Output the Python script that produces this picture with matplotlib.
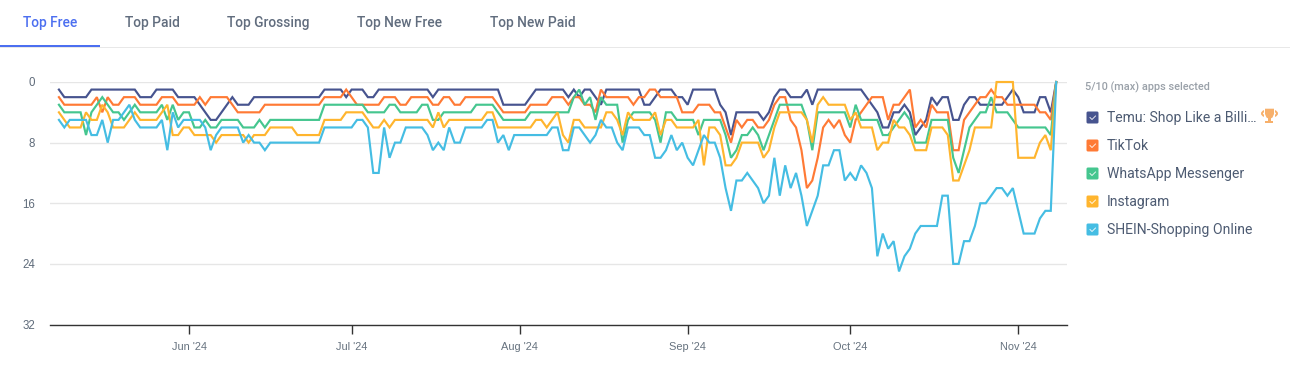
import matplotlib
matplotlib.use("Agg")
import matplotlib.pyplot as plt
import matplotlib.dates as mdates
import pandas as pd
from matplotlib.patches import FancyBboxPatch, Rectangle, Ellipse, Polygon

plt.rcParams['font.family'] = ['Roboto', 'DejaVu Sans']

# Daily rank, May 8 to Nov 8 2024
START_DATE = '2024-05-08'

temu = [
    1,2,2,2,2,2,1,1,1,1,1,1,1,1,1,2,2,2,1,1,
    1,1,2,2,2,2,3,4,5,5,4,3,2,3,3,3,2,2,2,2,
    2,2,2,2,2,2,2,2,2,1,1,1,1,2,1,1,1,2,2,1,
    1,1,1,1,1,1,1,1,1,2,1,1,1,1,1,1,1,1,1,1,
    1,1,3,3,3,3,3,2,1,1,1,1,1,1,2,1,2,1,1,2,
    3,1,1,1,1,1,1,1,3,3,2,1,1,1,2,2,3,1,1,1,
    1,1,3,4,7,4,4,4,4,4,5,4,2,1,1,2,2,2,1,3,
    1,1,1,1,1,1,1,1,1,2,3,4,6,6,4,4,3,4,7,6,
    5,2,3,2,2,5,5,3,2,2,3,3,3,3,3,2,1,2,4,4,
    4,2,2,4,0]
tiktok = [
    2,3,3,3,3,3,3,2,4,2,3,3,2,2,2,3,3,3,3,2,
    2,2,3,3,3,3,2,3,2,2,2,2,3,4,4,4,4,4,3,3,
    3,3,3,3,3,3,3,3,3,2,2,2,2,1,2,3,3,3,3,3,
    2,2,2,3,3,2,2,2,2,3,3,2,2,3,3,2,2,2,2,2,
    2,3,4,4,4,4,4,3,3,3,3,2,2,2,3,2,2,3,3,4,
    1,2,2,2,2,2,3,2,2,1,1,2,2,2,2,4,4,4,3,3,
    3,4,4,6,8,5,6,5,5,6,6,5,3,2,2,5,6,9,14,13,
    10,6,5,6,5,7,8,5,4,3,2,2,2,5,3,3,2,1,6,5,
    6,3,4,4,4,9,9,5,4,3,2,2,1,2,2,3,3,3,3,3,
    3,4,4,5,0]
whatsapp = [
    3,4,4,4,4,7,4,3,2,3,4,4,5,4,3,4,4,4,4,3,
    5,3,5,4,4,6,6,5,6,6,5,5,5,5,6,6,6,5,6,5,
    5,5,5,5,5,5,5,5,5,3,3,3,3,3,3,3,3,4,4,4,
    4,3,3,4,4,4,4,3,3,5,5,4,4,4,4,4,4,3,3,3,
    3,4,5,5,5,5,5,4,4,4,4,4,4,4,4,2,1,3,2,5,
    2,3,3,3,8,5,4,4,4,4,5,8,4,4,5,5,5,5,7,5,
    5,5,5,7,10,9,7,7,6,7,9,7,5,3,3,3,3,3,5,9,
    4,4,4,4,4,4,6,3,5,5,5,5,7,7,6,5,4,5,8,8,
    8,5,5,5,5,10,12,9,6,5,4,4,2,4,4,4,5,6,6,6,
    6,6,6,7,0]
instagram = [
    4,5,6,6,6,4,5,5,3,4,6,6,6,5,4,5,5,5,5,4,
    3,7,7,6,6,7,7,7,7,8,7,7,7,7,7,8,7,7,7,6,
    6,6,6,6,7,7,7,7,7,5,5,5,5,4,4,4,4,5,6,6,
    5,6,5,5,5,5,5,5,5,6,4,6,5,5,5,5,5,5,5,4,
    4,6,6,6,6,6,6,6,5,5,6,5,4,7,8,5,5,6,6,6,
    6,4,4,5,7,4,5,5,5,5,4,7,5,5,6,6,6,6,5,11,
    6,6,7,11,11,10,8,8,8,8,10,9,6,4,4,4,4,4,5,8,
    3,2,3,3,3,3,5,4,6,6,6,9,8,8,5,6,6,7,9,9,
    9,6,6,6,7,13,13,11,9,6,6,6,6,0,0,0,0,10,10,10,
    10,8,7,9,0]
shein = [
    5,6,5,5,5,5,7,7,5,8,5,5,4,3,5,6,6,6,6,5,
    9,4,6,5,5,5,5,6,9,7,6,6,6,6,8,7,8,8,9,8,
    8,8,8,8,8,8,8,8,8,6,6,6,6,6,6,5,5,6,12,12,
    6,10,8,8,6,6,6,6,7,9,8,9,6,8,8,6,6,6,6,5,
    5,8,7,9,7,7,7,7,7,7,7,6,6,9,9,6,6,7,8,7,
    5,6,6,8,9,6,6,6,7,7,10,10,9,7,9,8,10,11,9,7,
    8,8,10,14,17,13,13,12,13,14,16,15,10,15,11,14,12,15,19,17,
    15,11,11,9,9,13,12,13,11,12,14,23,20,22,21,25,23,22,20,19,
    19,19,19,15,15,24,24,21,21,19,16,16,15,14,14,15,14,17,20,20,
    20,18,17,17,0]

app_names = ['Temu: Shop Like a Billi…', 'TikTok', 'WhatsApp Messenger', 'Instagram', 'SHEIN-Shopping Online']
app_ranks = [temu, tiktok, whatsapp, instagram, shein]
app_colors = ['#47548F', '#FF7A35', '#45C68F', '#FFB52E', '#45BDE3']

tab_names = ['Top Free', 'Top Paid', 'Top Grossing', 'Top New Free', 'Top New Paid']
tab_x = [50, 152, 268, 399.5, 533]

y_ticks = [0, 8, 16, 24, 32]
month_ticks = ['2024-06-01', '2024-07-01', '2024-08-01', '2024-09-01', '2024-10-01', '2024-11-01']

W, H = 1290, 374
fig = plt.figure(figsize=(W / 100, H / 100), dpi=100)

# Plot area, in pixels of the picture
left, right, top, bottom = 50, 1067, 82, 324.5
ax = fig.add_axes([left / W, 1 - bottom / H, (right - left) / W, (bottom - top) / H])

days = pd.date_range(START_DATE, periods=len(temu))
for ranks, color in zip(app_ranks, app_colors):
    ax.plot(days, ranks, color=color, lw=1.55, clip_on=False, solid_joinstyle='miter', zorder=3)

ax.set_ylim(32, 0)
px_per_day = 5.42
june = mdates.date2num(pd.Timestamp('2024-06-01'))
ax.set_xlim(june - (189 - left) / px_per_day, june + (right - 189) / px_per_day)

ax.set_yticks(y_ticks)
ax.grid(axis='y', color='#E6E6E6', lw=1)
ax.set_axisbelow(True)
ax.tick_params(axis='y', length=0, pad=10.8, labelsize=8.3, labelcolor='#5F6B7A',
               labelfontfamily='Liberation Sans')
ax.set_xticks([pd.Timestamp(m) for m in month_ticks])
ax.xaxis.set_major_formatter(mdates.DateFormatter("%b '%y"))
ax.tick_params(axis='x', length=6.8, width=1, color='#333333', pad=6, labelsize=7.9, labelcolor='#66727F',
               labelfontfamily='Liberation Sans')
for side in ['top', 'left', 'right']:
    ax.spines[side].set_visible(False)
ax.spines['bottom'].set_color('#333333')
ax.spines['bottom'].set_linewidth(1)

# Overlay for the tabs and the app list
ov = fig.add_axes([0, 0, 1, 1], zorder=5)
ov.set_xlim(0, W)
ov.set_ylim(H, 0)
ov.axis('off')

ov.add_patch(Rectangle((0, 46.5), W, 1.2, color='#E8E8E8', lw=0))
ov.add_patch(Rectangle((0, 45), 100, 2.4, color='#4C6FF0', lw=0))
for i, (name, x) in enumerate(zip(tab_names, tab_x)):
    ov.text(x, 22.5, name, ha='center', va='center', fontsize=9.9, fontweight='medium',
            color='#4C6FF0' if i == 0 else '#616D7E')

ov.text(1085, 87, '5/10 (max) apps selected', ha='left', va='center', fontsize=7.8,
        fontweight='medium', color='#9AA1A9')

for i, (name, color) in enumerate(zip(app_names, app_colors)):
    y = 117.5 + 28 * i
    ov.add_patch(FancyBboxPatch((1087.5, y - 5), 10, 10, boxstyle='round,pad=1,rounding_size=1.5',
                                fc=color, ec='none'))
    ov.plot([1090, 1092, 1095.5], [y, y + 2, y - 1.5], color='white', lw=0.7, alpha=0.85)
    ov.text(1107, y, name, ha='left', va='center', fontsize=10.1, color='#4D5B72')

# Trophy next to the first app
gold = '#F7B06B'
ov.add_patch(Ellipse((1269.5, 113.5), 15, 7, fc='none', ec=gold, lw=1.4))
ov.add_patch(Rectangle((1264, 108), 11, 11, fc='white', ec='none'))
ov.add_patch(Polygon([(1265, 108.7), (1274, 108.7), (1274, 114), (1272.5, 117.5), (1270.7, 118.5),
                      (1268.3, 118.5), (1266.5, 117.5), (1265, 114)], fc=gold, ec='none'))
ov.add_patch(Rectangle((1268.3, 118), 2.4, 3, fc=gold, ec='none'))
ov.add_patch(Rectangle((1265, 120.7), 8, 2, fc=gold, ec='none'))

fig.savefig('out.png', dpi=100, facecolor='white')
